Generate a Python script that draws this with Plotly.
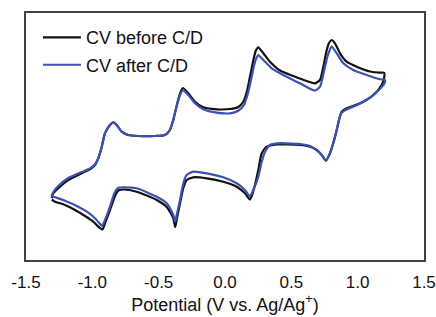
import plotly.graph_objects as go

# Potential (V vs. Ag/Ag+) and current (arbitrary units), one closed CV loop each
before_v = [-1.306, -1.297, -1.257, -1.181, -1.080, -1.018, -0.980, -0.955, -0.929, -0.905,
            -0.867, -0.842, -0.816, -0.779, -0.729, -0.654, -0.528, -0.452, -0.415, -0.390,
            -0.372, -0.339, -0.317, -0.277, -0.226, -0.164, -0.063, 0.038, 0.100, 0.138,
            0.168, 0.188, 0.211, 0.230, 0.251, 0.289, 0.339, 0.415, 0.515, 0.616,
            0.678, 0.716, 0.741, 0.767, 0.784, 0.804, 0.829, 0.867, 0.917, 0.993,
            1.093, 1.168, 1.199, 1.199, 1.181, 1.118, 1.018, 0.917, 0.880, 0.862,
            0.842, 0.816, 0.791, 0.761, 0.729, 0.691, 0.641, 0.565, 0.465, 0.390,
            0.314, 0.277, 0.251, 0.226, 0.204, 0.188, 0.151, 0.088, -0.013, -0.138,
            -0.239, -0.289, -0.314, -0.339, -0.360, -0.375, -0.390, -0.439, -0.515, -0.666,
            -0.767, -0.804, -0.829, -0.867, -0.905, -0.923, -0.955, -0.993, -1.055, -1.131,
            -1.219, -1.281, -1.306]
before_i = [-55.3, -51, -45.3, -37, -30.3, -26.3, -22, -15.3, -3.7, 9.7,
            18, 20.7, 18, 11.3, 8, 7, 7, 8, 13, 23,
            33, 49.7, 55, 49.7, 41.3, 35.7, 33.7, 34, 36, 41.3,
            53, 66.3, 81, 91.5, 95.7, 89.7, 81.3, 72.5, 67, 62,
            59.7, 63, 76.3, 93, 100, 103, 99.7, 89.7, 81.3, 76.3,
            71.5, 70.3, 70.3, 64.7, 58, 48, 39.7, 34.7, 31.3, 24.7,
            13, -0.3, -10.3, -17.7, -12, -7, -3.7, -2, -1.5, -1.5,
            -3.7, -10.3, -27, -42, -52, -56.5, -50.3, -43.7, -38.7, -35.3,
            -34.3, -37, -45, -60.3, -73.7, -84, -75, -64, -57, -48.7,
            -46.5, -47.5, -53, -67, -80.3, -86.5, -83.7, -78.7, -73, -67,
            -61.3, -58.7, -56.5]

after_v = [-1.306, -1.289, -1.257, -1.181, -1.080, -1.018, -0.980, -0.955, -0.929, -0.905,
           -0.867, -0.842, -0.816, -0.779, -0.729, -0.654, -0.528, -0.452, -0.415, -0.390,
           -0.372, -0.339, -0.317, -0.277, -0.226, -0.164, -0.063, 0.038, 0.100, 0.143,
           0.176, 0.201, 0.222, 0.239, 0.251, 0.289, 0.352, 0.439, 0.565, 0.654,
           0.678, 0.716, 0.754, 0.776, 0.804, 0.842, 0.892, 0.967, 1.068, 1.168,
           1.206, 1.199, 1.168, 1.101, 1.003, 0.917, 0.880, 0.862, 0.842, 0.816,
           0.791, 0.761, 0.729, 0.691, 0.641, 0.565, 0.465, 0.390, 0.339, 0.302,
           0.277, 0.251, 0.213, 0.188, 0.151, 0.088, -0.013, -0.138, -0.239, -0.289,
           -0.314, -0.339, -0.364, -0.375, -0.390, -0.439, -0.515, -0.666, -0.754, -0.804,
           -0.834, -0.867, -0.910, -0.929, -0.942, -0.980, -1.030, -1.106, -1.206, -1.281,
           -1.306]
after_i = [-53, -48, -43, -35, -29, -25.5, -21.5, -15, -3.7, 9.7,
           18, 20.7, 18, 11.3, 8, 7, 7, 8, 13, 23,
           33, 48, 52.5, 48, 39.7, 33.7, 30.3, 29.7, 32.3, 38,
           51.3, 66.3, 79, 85.5, 88, 83, 74.7, 68, 59.7, 53.5,
           52.5, 56.3, 76.3, 88, 96.3, 89.7, 79.7, 73, 68, 63.7,
           63, 59, 54, 46, 38.5, 33.5, 30.5, 24, 13, -0.3,
           -10.3, -17.5, -12, -7, -3, -1, -0.3, -0.3, -2, -8.7,
           -18.7, -33.7, -47, -53, -47, -40.3, -34.3, -30.3, -28.7, -32,
           -40.3, -57, -72, -78.5, -72, -60.3, -53.7, -45.3, -44.3, -44.7,
           -50.3, -63.7, -78.7, -83, -81, -75.3, -69.7, -63.7, -57.7, -54.3,
           -53]

series_names = ["CV before C/D", "CV after C/D"]
x_ticks = [-1.5, -1.0, -0.5, 0.0, 0.5, 1.0, 1.5]
x_tick_labels = ["-1.5", "-1.0", "-0.5", "0.0", "0.5", "1.0", "1.5"]

FONT = "Liberation Sans, Arial, Helvetica, sans-serif"

fig = go.Figure()
fig.add_trace(go.Scatter(x=before_v, y=before_i, mode="lines", name=series_names[0],
                         legendgroup="a",
                         line=dict(color="#111111", width=2.2, shape="spline", smoothing=0.6)))
fig.add_trace(go.Scatter(x=after_v, y=after_i, mode="lines", name=series_names[1],
                         legendgroup="b",
                         line=dict(color="#3b52b4", width=2.2, shape="spline", smoothing=0.6)))

fig.update_layout(
    width=436, height=317,
    margin=dict(l=26, r=12, t=13, b=57),
    paper_bgcolor="white", plot_bgcolor="white",
    font=dict(family=FONT, size=17, color="#111111"),
    showlegend=True,
    legend=dict(x=0.03, y=0.975, xanchor="left", yanchor="top",
                bgcolor="rgba(0,0,0,0)", font=dict(size=18),
                traceorder="grouped", tracegroupgap=1, itemwidth=38),
    xaxis=dict(range=[-1.5, 1.5], tickvals=x_ticks, ticktext=x_tick_labels,
               automargin=False,
               showgrid=False, zeroline=False, showline=True, mirror=True,
               linecolor="#444444", linewidth=1.5,
               ticks="outside", ticklen=6, tickcolor="rgba(0,0,0,0)",
               tickfont=dict(size=17),
               title=dict(text="Potential (V vs. Ag/Ag<sup>+</sup>)", font=dict(size=18), standoff=7)),
    yaxis=dict(range=[-117, 130], showticklabels=False, ticks="",
               automargin=False,
               showgrid=False, zeroline=False, showline=True, mirror=True,
               linecolor="#444444", linewidth=1.5),
)

fig.write_html("out.html", config={"displayModeBar": False},
               post_script="document.body.style.margin='0';")
